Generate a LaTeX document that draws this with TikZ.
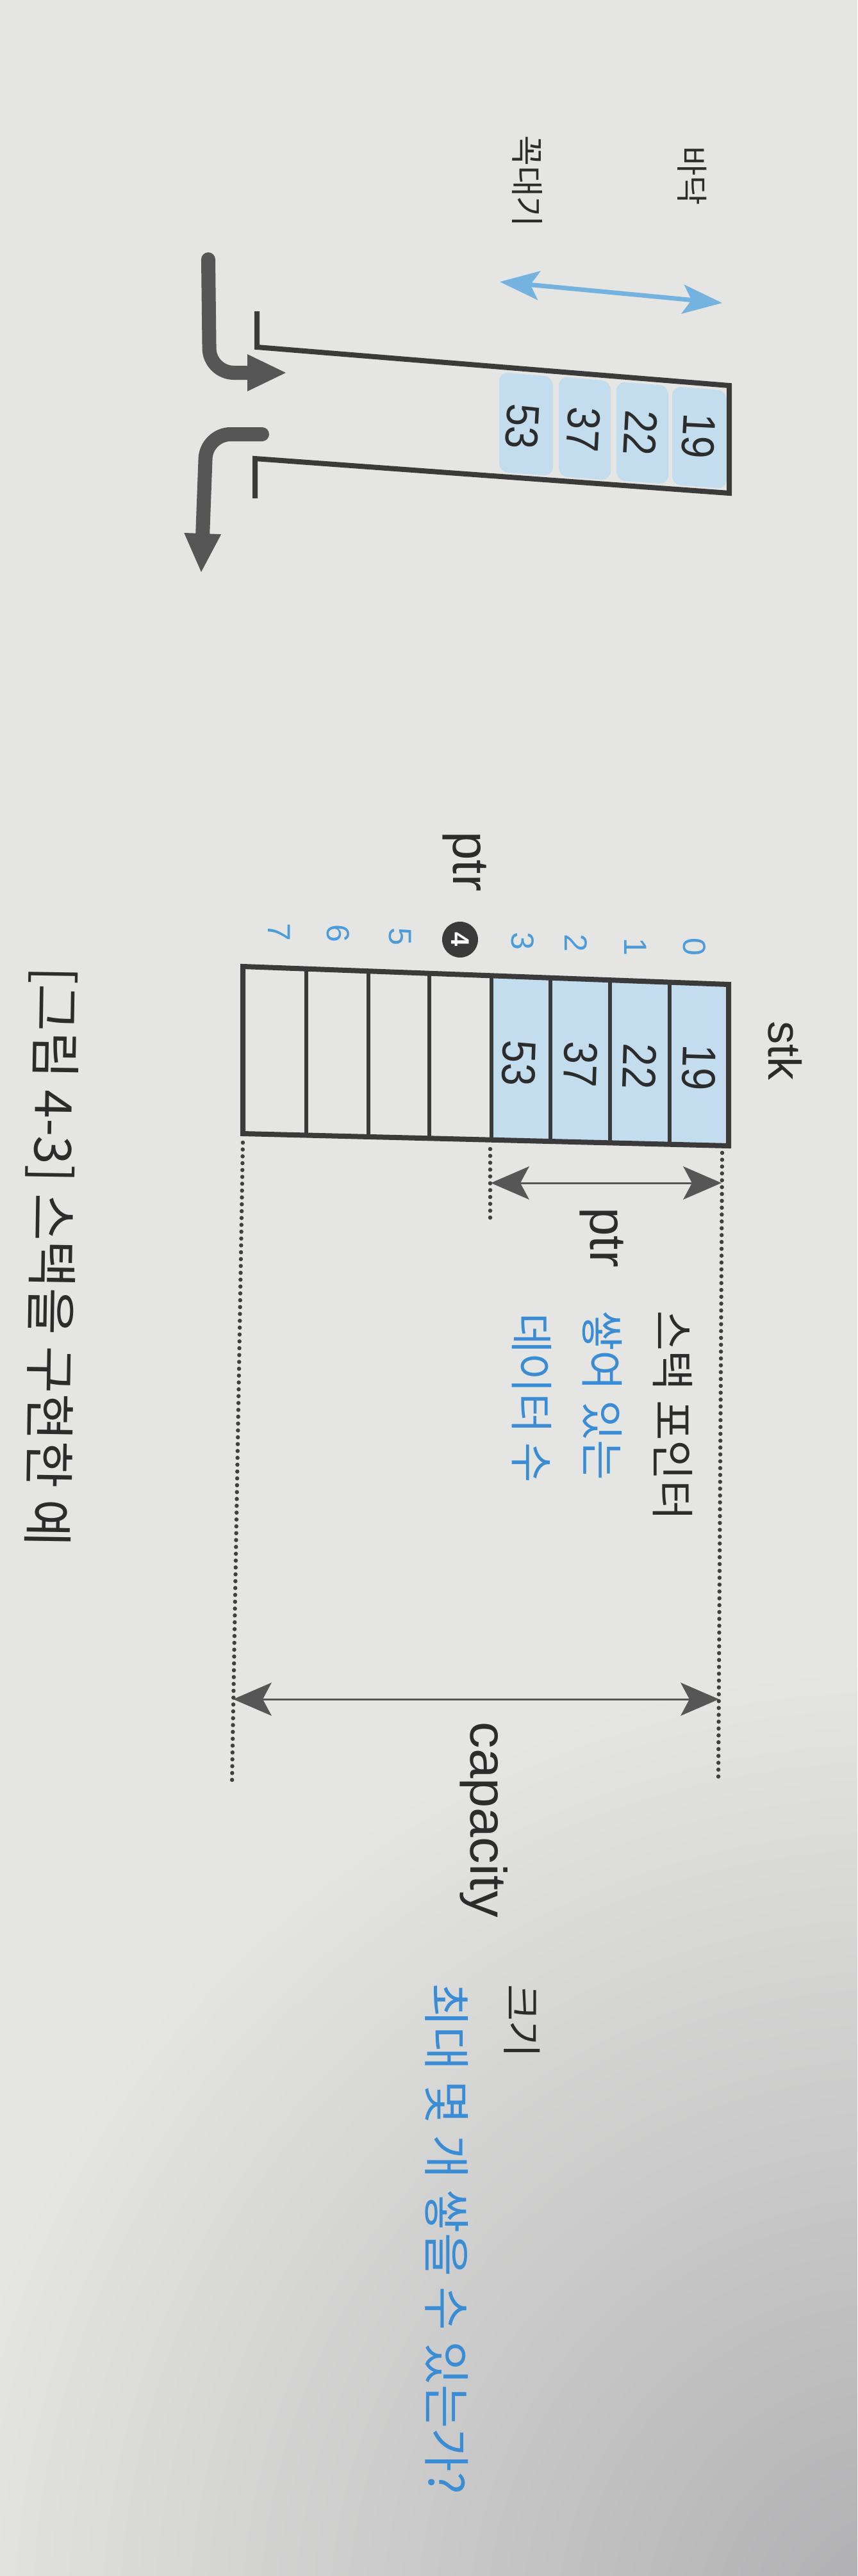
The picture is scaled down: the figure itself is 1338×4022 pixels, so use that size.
\documentclass[tikz,border=0pt]{standalone}
\usepackage{graphicx}
\usepackage{fontspec}
\setmainfont{Liberation Sans}
\newfontfamily\krfont{Noto Sans CJK KR}
\usetikzlibrary{arrows.meta}
\definecolor{paper}{HTML}{E5E5E3}
\definecolor{shadowgray}{HTML}{AEAEB0}
\definecolor{ink}{HTML}{2C2C2C}
\definecolor{linegray}{HTML}{3A3A3A}
\definecolor{arrowgray}{HTML}{565656}
\definecolor{cellblue}{HTML}{C3DCEE}
\definecolor{skyblue}{HTML}{74B3DF}
\definecolor{txtblue}{HTML}{3A8DD4}
\definecolor{idxblue}{HTML}{4C9BDB}
\definecolor{dotgray}{HTML}{404040}
\begin{document}
\begin{tikzpicture}[x=1pt,y=-1pt,
  lbl/.style={inner sep=0pt,outer sep=0pt,rotate=-90},
  latin/.style={font=\fontsize{#1}{#1}\selectfont},
  hangul/.style={font=\krfont\fontsize{#1}{#1}\selectfont},
  boxline/.style={draw=linegray,line width=8pt,line join=miter},
  divline/.style={draw=linegray,line width=6pt},
  dotline/.style={draw=dotgray,line width=6.5pt,line cap=round,dash pattern=on 0pt off 10.7pt},
  dimarrow/.style={draw=arrowgray,fill=arrowgray,line width=3pt,{Stealth[length=60pt,width=52pt,inset=14pt,line width=0pt]}-{Stealth[length=60pt,width=52pt,inset=14pt,line width=0pt]}},
  fatarrow/.style={draw=arrowgray,line width=22pt,line cap=round,rounded corners=38pt,-{Triangle[length=60pt,width=58pt,line width=0pt]}},
  bluearrow/.style={draw=skyblue,line width=7pt,{Stealth[length=62pt,width=46pt,inset=14pt,line width=0pt]}-{Stealth[length=62pt,width=46pt,inset=14pt,line width=0pt]}},
  cellfill/.style={fill=cellblue,rounded corners=14pt}
]
\useasboundingbox (0,0) rectangle (1338,4022);
% paper
\fill[paper] (0,0) rectangle (1338,4022);
\begin{scope}
\clip (0,0) rectangle (1338,4022);
\shade[inner color=shadowgray,outer color=paper] (1400,4100) circle (1500);
\end{scope}

% ---------- top: stack container ----------
\node[lbl,hangul=50,text=ink] (bottomlbl) at (1080,275) {바닥};
\node[lbl,hangul=52,text=ink] (toplbl) at (823,283) {꼭대기};
\coordinate (bL) at (780,440);
\coordinate (bR) at (1127,473);
\draw[bluearrow] (bL) -- (bR);

\fill[cellfill] (1049,603) -- (1134,610) -- (1134,763) -- (1049,757) -- cycle;
\fill[cellfill] (962,596) -- (1043,602) -- (1043,756) -- (962,750) -- cycle;
\fill[cellfill] (872,588) -- (953,595) -- (953,750) -- (872,744) -- cycle;
\fill[cellfill] (779,581) -- (863,588) -- (863,743) -- (779,737) -- cycle;
\node[lbl,rotate=-3,latin=72,text=ink] (t19) at (1090,681) {\scalebox{0.88}[1]{19}};
\node[lbl,rotate=-3,latin=72,text=ink] (t22) at (1000,676) {\scalebox{0.88}[1]{22}};
\node[lbl,rotate=-3,latin=72,text=ink] (t37) at (910,671) {\scalebox{0.88}[1]{37}};
\node[lbl,rotate=-3,latin=72,text=ink] (t53) at (815,666) {\scalebox{0.88}[1]{53}};
\coordinate (lipA) at (401,486);
\coordinate (cTL) at (401,542);
\coordinate (cTR) at (1138,602);
\coordinate (cBR) at (1138,770);
\coordinate (cBL) at (398,716);
\coordinate (lipB) at (398,778);
\draw[boxline] (lipA) -- (cTL) -- (cTR) -- (cBR) -- (cBL) -- (lipB);

\coordinate (pushS) at (325,405);
\coordinate (pushC) at (327,582);
\coordinate (pushE) at (446,582);
\draw[fatarrow] (pushS) -- (pushC) -- (pushE);
\coordinate (popS) at (409,678);
\coordinate (popC) at (322,678);
\coordinate (popE) at (314,893);
\draw[fatarrow] (popS) -- (popC) -- (popE);

% ---------- middle: array stk ----------
\node[lbl,latin=72,text=ink] (stk) at (1225,1640) {stk};
\fill[cellblue] (767,1523.3) -- (1137,1537) -- (1137,1789) -- (767,1779.7) -- cycle;
\foreach \xx/\tt/\bb in {478/1512.7/1772.5,575/1516.2/1774.9,670/1519.7/1777.3,767/1523.3/1779.7,859/1526.7/1782.0,952/1530.2/1784.4,1045/1533.6/1786.7}
  \draw[divline] (\xx,\tt) -- (\xx,\bb);
\coordinate (aTL) at (379,1509);
\coordinate (aTR) at (1137,1537);
\coordinate (aBR) at (1137,1789);
\coordinate (aBL) at (379,1770);
\draw[boxline] (aTL) -- (aTR) -- (aBR) -- (aBL) -- cycle;
\node[lbl,rotate=-1.8,latin=74,text=ink] (s19) at (1091,1667) {\scalebox{0.86}[1]{19}};
\node[lbl,rotate=-1.8,latin=74,text=ink] (s22) at (998,1665) {\scalebox{0.86}[1]{22}};
\node[lbl,rotate=-1.8,latin=74,text=ink] (s37) at (906,1662) {\scalebox{0.86}[1]{37}};
\node[lbl,rotate=-1.8,latin=74,text=ink] (s53) at (810,1660) {\scalebox{0.86}[1]{53}};
% indices
\foreach \xx/\yy/\nn in {1084/1478/0,992/1478/1,899/1472/2,816/1469/3,624/1462/5,528/1457/6,436/1455/7}
  \node[lbl,latin=50,text=idxblue] (idx\nn) at (\xx,\yy) {\nn};
\node[lbl,circle,fill=linegray,minimum size=56pt,text=white,font=\bfseries\fontsize{40}{40}\selectfont] (idx4) at (718,1467) {4};
\node[lbl,latin=80,text=ink] (ptrtop) at (725,1345) {ptr};

% dotted guides
\coordinate (rdA) at (1127,1800);
\coordinate (rdB) at (1121,2778);
\coordinate (ldA) at (379,1784);
\coordinate (ldB) at (362,2787);
\coordinate (mdA) at (765,1794);
\coordinate (mdB) at (765,1906);
\draw[dotline] (rdA) -- (rdB);
\draw[dotline] (ldA) -- (ldB);
\draw[dotline] (mdA) -- (mdB);

% ptr dimension
\coordinate (pL) at (766,1847);
\coordinate (pR) at (1126,1847);
\draw[dimarrow] (pL) -- (pR);
\node[lbl,latin=80,text=ink] (ptrlbl) at (939,1932) {ptr};
\node[lbl,hangul=68,text=ink,anchor=west] (sp) at (1050,2046) {스택 포인터};
\node[lbl,hangul=68,text=txtblue,anchor=west] (sp2) at (940,2046) {쌓여 있는};
\node[lbl,hangul=68,text=txtblue,anchor=west] (sp3) at (830,2050) {데이터 수};

% capacity dimension
\coordinate (cL) at (364,2653);
\coordinate (cR) at (1122,2653);
\draw[dimarrow] (cL) -- (cR);
\node[lbl,latin=80,text=ink] (caplbl) at (755,2841) {\scalebox{1.04}[1]{capacity}};
\node[lbl,hangul=62,text=ink,anchor=west] (size) at (815,3098) {크기};
\node[lbl,hangul=74,text=txtblue,anchor=west] (maxn) at (697,3096) {최대 몇 개 쌓을 수 있는가?};

% caption
\node[lbl,rotate=-0.9,hangul=80,text=ink,anchor=west] (caption) at (85,1510) {[그림 4-3] 스택을 구현한 예};
\end{tikzpicture}
\end{document}
